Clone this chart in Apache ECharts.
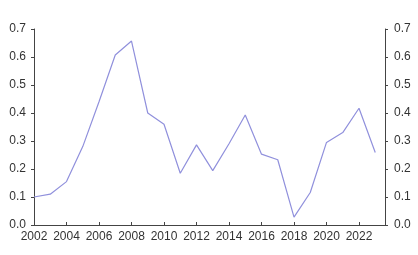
<!DOCTYPE html>
<html>
<head>
<meta charset="utf-8">
<script src="https://cdn.jsdelivr.net/npm/echarts@6/dist/echarts.min.js"></script>
<style>
html,body{margin:0;padding:0;background:#fff;}
#chart{width:418px;height:255px;}
</style>
</head>
<body>
<div id="chart"></div>
<script>
var years = [2002,2003,2004,2005,2006,2007,2008,2009,2010,2011,2012,2013,2014,2015,2016,2017,2018,2019,2020,2021,2022,2023];
var values = [0.10,0.11,0.155,0.28,0.44,0.607,0.657,0.40,0.36,0.185,0.286,0.194,0.29,0.393,0.253,0.233,0.028,0.116,0.295,0.33,0.417,0.259];
var yTicks = [0.0,0.1,0.2,0.3,0.4,0.5,0.6,0.7];

var chart = echarts.init(document.getElementById('chart'), null, {renderer:'canvas'});
var labelStyle = {color:'#333', fontFamily:'Liberation Sans, Arial, sans-serif', fontSize:12};
var yAxisBase = function(pos, margin){
  return {
    type:'value', position:pos, min:yTicks[0], max:yTicks[yTicks.length-1], interval:0.1,
    axisLine:{show:true, lineStyle:{color:'#444', width:1}},
    axisTick:{show:true, length:3, lineStyle:{color:'#444'}},
    splitLine:{show:false},
    axisLabel:Object.assign({margin:margin, formatter:function(v){return v.toFixed(1);}}, labelStyle)
  };
};
chart.setOption({
  animation:false,
  grid:{left:34, right:33, top:29, bottom:30, containLabel:false},
  xAxis:{
    type:'value', min:2002, max:2023.6, interval:2,
    axisLine:{show:true, onZero:false, lineStyle:{color:'#444', width:1}},
    axisTick:{show:true, inside:true, length:3, lineStyle:{color:'#444'}},
    splitLine:{show:false},
    axisLabel:Object.assign({margin:6, showMaxLabel:false, formatter:function(v){return (v%1===0)?String(v):'';}}, labelStyle)
  },
  yAxis:[yAxisBase('left',8), yAxisBase('right',9)],
  series:[{
    type:'line', yAxisIndex:0,
    data: years.map(function(y,i){return [y, values[i]];}),
    showSymbol:false, symbol:'none',
    lineStyle:{color:'#9090dc', width:1.2}
  }]
});
</script>
</body>
</html>
